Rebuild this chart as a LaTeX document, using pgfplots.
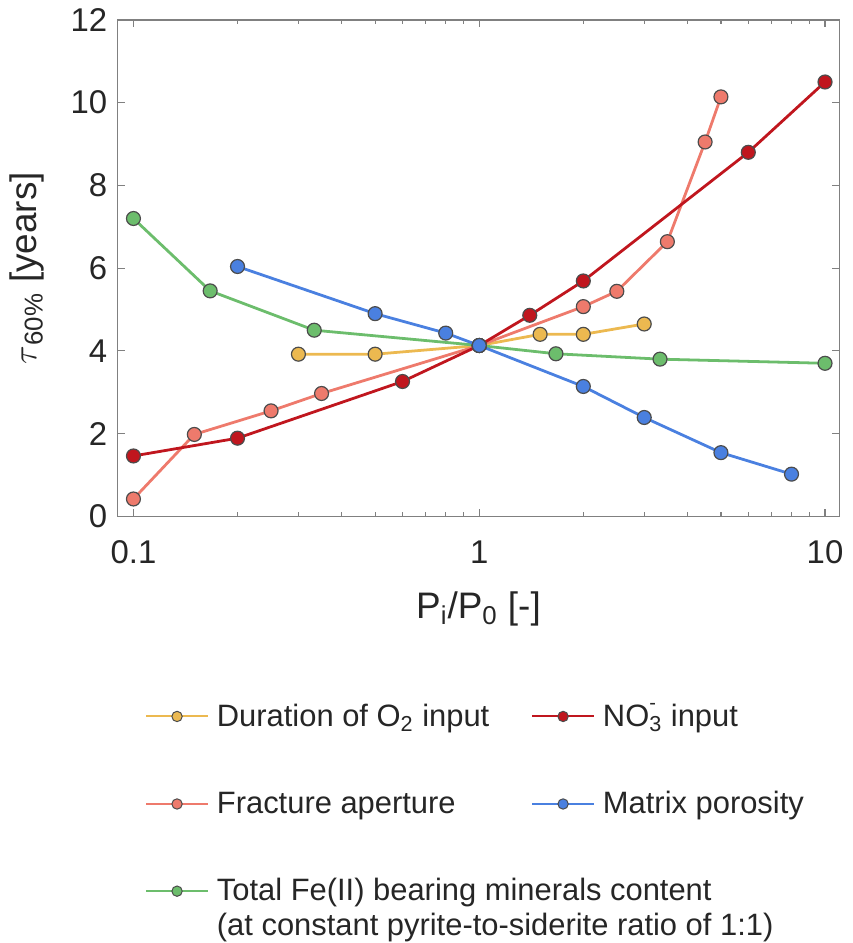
\documentclass[border=0pt]{standalone}
\usepackage{pgfplots}
\pgfplotsset{compat=1.18}
\usepackage{fontspec}
\setmainfont{Liberation Sans}

\definecolor{cO}{RGB}{236,185,80}
\definecolor{cN}{RGB}{192,22,30}
\definecolor{cF}{RGB}{238,122,108}
\definecolor{cM}{RGB}{74,128,224}
\definecolor{cG}{RGB}{108,189,108}
\definecolor{axgray}{RGB}{128,128,128}
\definecolor{txt}{RGB}{38,38,38}

\pgfplotsset{
  ser/.style={color=#1, line width=1.4pt, mark=*, mark size=3.5pt,
    mark options={fill=#1, draw=black!70, line width=0.6pt}},
  leg/.style={color=#1, line width=1pt, mark=*, mark size=2.6pt,
    mark options={fill=#1, draw=black!70, line width=0.5pt}},
}

\begin{document}
\begin{tikzpicture}
\begin{axis}[
  scale only axis,
  width=362pt, height=249pt,
  xmode=log,
  xmin=0.09, xmax=11,
  ymin=0, ymax=12,
  xtick={0.1,1,10}, xticklabels={0.1,1,10},
  minor xtick={0.2,0.3,0.4,0.5,0.6,0.7,0.8,0.9,2,3,4,5,6,7,8,9},
  ytick={0,2,4,6,8,10,12},
  /pgf/number format/assume math mode=true,
  tick align=inside, tick pos=both,
  major tick length=3.5pt, minor tick length=2pt,
  axis line style={axgray, line width=0.7pt},
  every tick/.style={axgray, line width=0.6pt},
  tick label style={font=\fontsize{16.5}{19}\selectfont, text=txt, inner sep=0pt},
  xticklabel style={anchor=base, yshift=-23.5pt},
  yticklabel style={anchor=east, xshift=-5pt},
  label style={font=\fontsize{18.5}{22}\selectfont, text=txt},
  xlabel={P\textsubscript{i}/P\textsubscript{0} [-]},
  xlabel style={at={(axis description cs:0.5,0)}, anchor=base, yshift=-51pt},
  ylabel={$\tau$\textsubscript{60\%} [years]},
  ylabel style={at={(axis description cs:-0.1257,0.5)}, anchor=center},
  legend columns=2,
  legend cell align=left,
  legend image code/.code={
    \draw[mark repeat=2,mark phase=2,#1] plot coordinates {(0pt,0pt) (15.5pt,0pt) (31pt,0pt)};
  },
  legend style={draw=none, fill=none, inner sep=0pt,
    at={(0.0376,-0.368)}, anchor=north west,
    font=\fontsize{15.5}{18.5}\selectfont, text=txt,
    row sep=27pt,
    /tikz/every odd column/.append style={column sep=2pt},
    /tikz/every even column/.append style={column sep=19pt}},
]
\addplot[ser=cO, forget plot] coordinates {(0.3,3.92) (0.5,3.92) (1,4.13) (1.5,4.40) (2,4.40) (3,4.65)};
\addplot[ser=cF, forget plot] coordinates {(0.1,0.42) (0.15,1.98) (0.25,2.55) (0.35,2.97) (1,4.13) (2,5.07) (2.5,5.44) (3.5,6.64) (4.5,9.05) (5,10.14)};
\addplot[ser=cN, forget plot] coordinates {(0.1,1.46) (0.2,1.89) (0.6,3.26) (1,4.13) (1.4,4.86) (2,5.69) (6,8.8) (10,10.5)};
\addplot[ser=cG, forget plot] coordinates {(0.1,7.2) (0.1667,5.45) (0.3333,4.5) (1,4.13) (1.6667,3.93) (3.3333,3.8) (10,3.7)};
\addplot[ser=cM, forget plot] coordinates {(0.2,6.04) (0.5,4.9) (0.8,4.43) (1,4.13) (2,3.14) (3,2.39) (5,1.54) (8,1.02)};

\addlegendimage{leg=cO}
\addlegendentry{Duration of O\textsubscript{2} input}
\addlegendimage{leg=cN}
\addlegendentry{NO\rlap{\raisebox{0.55em}{\fontsize{10}{10}\selectfont -}}\textsubscript{3} input}
\addlegendimage{leg=cF}
\addlegendentry{Fracture aperture}
\addlegendimage{leg=cM}
\addlegendentry{Matrix porosity}
\addlegendimage{leg=cG}
\addlegendentry{\rlap{\vtop{\baselineskip=17.5pt\hbox{Total Fe(II) bearing minerals content}\hbox{(at constant pyrite-to-siderite ratio of 1:1)}}}}

\coordinate (sw) at (rel axis cs:0,0);
\coordinate (ne) at (rel axis cs:1,1);
\end{axis}
\pgfresetboundingbox
\path ([shift={(-59pt,-214pt)}]sw) rectangle ([shift={(6.5pt,10pt)}]ne);
\end{tikzpicture}
\end{document}
